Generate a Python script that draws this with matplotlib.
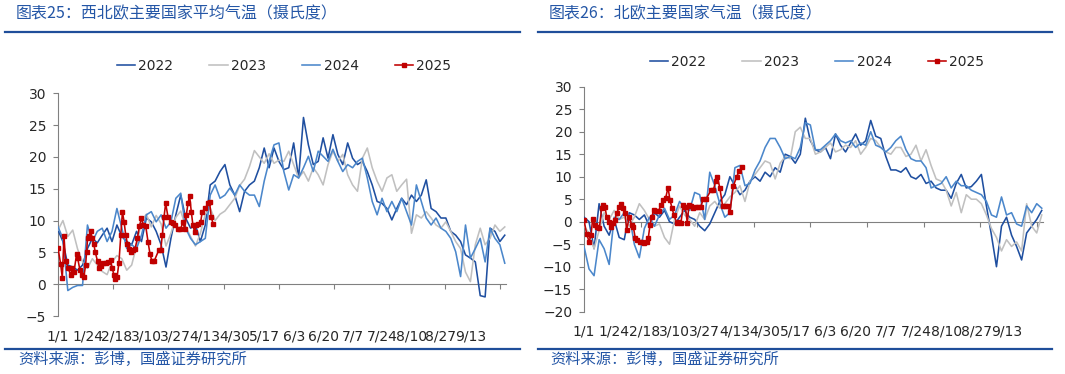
import numpy as np
import matplotlib
matplotlib.use("Agg")
import matplotlib.pyplot as plt
from matplotlib.lines import Line2D

W, H = 1065, 374
CJK = ["Noto Sans CJK SC", "DejaVu Sans"]
plt.rcParams["font.family"] = ["DejaVu Sans"]

# category index of each line value (one value every 4 categories)
days = np.arange(0, 365, 4)
date_labels = ["1/1", "1/24", "2/18", "3/10", "3/27", "4/13", "4/30", "5/17",
               "6/3", "6/20", "7/7", "7/24", "8/10", "8/27", "9/13"]
years = ["2022", "2023", "2024", "2025"]

# --- 图表25 西北欧 ---
nw_2022 = [8.5, 6.7, 3.0, 2.7, 2.2, 3.0, 5.6, 7.2, 6.5, 7.7,
           8.8, 6.7, 9.3, 7.5, 6.7, 6.2, 8.3, 6.7, 10.4, 9.8,
           8.3, 6.2, 2.7, 7.2, 10.9, 14.0, 10.4, 8.8, 9.3, 6.7,
           9.3, 15.6, 16.2, 17.7, 18.8, 15.6, 14.0, 11.4, 14.6, 15.6,
           16.2, 18.3, 21.4, 18.3, 21.4, 19.3, 18.0, 18.3, 22.2, 16.7,
           26.2, 21.9, 18.8, 19.3, 23.0, 19.8, 23.5, 20.4, 18.8, 22.2,
           19.8, 18.8, 19.3, 17.7, 15.6, 13.0, 12.7, 11.9, 10.1, 11.9,
           13.5, 12.5, 14.0, 13.0, 14.0, 16.4, 11.9, 11.4, 10.4, 10.4,
           8.3, 7.7, 6.7, 4.6, 4.1, 3.5, -1.8, -2.0, 8.8, 8.3,
           6.7, 7.7]
nw_2023 = [8.5, 10.0, 7.5, 8.5, 5.5, 3.5, 2.5, 4.0, 3.0, 2.0,
           1.5, 3.5, 4.5, 4.0, 2.2, 3.0, 6.0, 10.0, 11.0, 9.0,
           10.8, 9.5, 6.0, 8.0, 10.5, 11.5, 9.0, 7.5, 6.0, 8.0,
           11.0, 12.0, 10.0, 11.0, 11.5, 12.5, 13.5, 15.5, 16.5, 18.5,
           21.0, 20.0, 19.0, 20.5, 19.0, 19.5, 19.3, 20.9, 18.8, 16.7,
           17.7, 16.2, 18.3, 17.2, 15.6, 18.8, 20.9, 19.3, 20.4, 17.2,
           15.6, 14.6, 19.8, 21.4, 18.3, 16.2, 14.6, 16.7, 17.2, 14.6,
           15.6, 16.5, 8.0, 10.9, 10.4, 11.4, 10.4, 9.3, 8.8, 9.8,
           8.3, 6.7, 5.6, 1.9, 0.4, 6.2, 8.8, 6.2, 7.2, 9.3,
           8.3, 9.0]
nw_2024 = [9.0, 7.2, -1.0, -0.5, -0.2, -0.2, 9.3, 6.7, 8.3, 8.8,
           6.7, 8.3, 11.9, 8.8, 5.6, 6.2, 5.6, 7.7, 10.9, 11.4,
           9.8, 10.9, 8.8, 9.8, 13.5, 14.3, 8.8, 7.2, 6.2, 6.7,
           7.2, 14.0, 15.6, 13.5, 14.0, 15.1, 14.0, 15.6, 14.6, 14.0,
           14.0, 12.2, 16.2, 19.3, 21.9, 22.2, 17.7, 14.8, 17.2, 16.7,
           18.3, 20.1, 17.7, 20.9, 20.1, 19.3, 21.2, 19.3, 17.7, 18.8,
           18.3, 19.3, 19.8, 16.7, 13.0, 10.9, 13.5, 11.4, 13.0, 11.4,
           13.5, 11.4, 9.3, 15.6, 13.0, 10.4, 9.3, 10.4, 8.8, 8.3,
           7.2, 5.1, 1.2, 9.3, 4.1, 5.6, 7.2, 3.5, 8.8, 7.2,
           6.2, 3.3]
nw_x2025 = [0.0, 2.2, 3.5, 4.9, 6.2, 8.4, 10.3, 11.6, 13.0, 15.2,
            16.0, 17.9, 19.2, 21.1, 22.5, 23.3, 24.1, 25.5, 26.5, 27.9,
            29.2, 30.3, 32.2, 33.3, 34.7, 36.8, 38.7, 40.9, 42.8, 44.1,
            45.5, 46.8, 48.2, 49.6, 51.2, 52.5, 53.9, 55.2, 56.6, 58.2,
            59.8, 61.5, 62.8, 64.7, 66.3, 68.0, 69.6, 71.5, 73.4, 75.0,
            76.6, 78.3, 82.0, 83.7, 85.0, 86.4, 87.7, 89.6, 92.3, 94.0,
            95.6, 97.8, 99.6, 101.8, 103.2, 104.5, 105.9, 107.2, 108.6, 109.9,
            111.3, 112.6, 114.0, 116.2, 117.5, 120.0, 122.1, 123.5, 124.8, 126.5]
nw_2025 = [5.7, 3.1, 1.0, 7.5, 3.6, 2.5, 1.4, 2.5, 1.9, 4.8,
           4.1, 2.2, 1.4, 1.2, 3.0, 5.1, 7.2, 7.5, 8.3, 7.2,
           6.3, 5.1, 3.6, 2.5, 2.9, 3.3, 3.3, 3.5, 3.8, 2.6,
           1.5, 0.8, 1.2, 3.3, 7.8, 11.4, 9.7, 7.7, 6.3, 5.5,
           5.1, 5.3, 5.6, 7.2, 9.1, 10.4, 9.3, 9.1, 6.6, 4.7,
           3.6, 3.6, 5.3, 5.3, 7.8, 10.6, 12.7, 10.6, 9.8, 9.6,
           9.3, 8.7, 8.6, 9.7, 8.7, 10.8, 12.7, 13.9, 11.4, 9.3,
           8.2, 9.3, 9.5, 9.7, 11.4, 11.9, 12.7, 12.9, 10.6, 9.4]

# --- 图表26 北欧 ---
n_2022 = [1.0, 0.0, -6.0, 4.0, -1.0, -3.0, 0.5, -3.5, -4.0, 2.0,
          1.5, 0.5, 1.5, -1.0, 2.0, 1.0, 2.5, 0.0, -0.5, 1.0,
          2.5, 1.0, 0.5, -1.0, -2.0, -0.5, 2.0, 4.5, 6.0, 10.0,
          8.0, 6.0, 7.0, 9.0, 10.0, 9.0, 11.0, 10.0, 12.0, 11.0,
          15.0, 14.5, 13.0, 15.0, 23.0, 18.0, 16.0, 15.5, 16.5, 14.0,
          19.5, 17.0, 15.5, 17.5, 19.5, 17.0, 18.0, 22.5, 19.0, 18.5,
          14.5, 11.5, 11.5, 11.0, 12.0, 10.0, 9.5, 10.5, 8.5, 9.0,
          7.5, 7.0, 7.0, 5.2, 8.5, 10.5, 7.5, 7.8, 9.0, 10.5,
          3.5, -3.0, -10.0, -1.0, 1.0, -3.0, -5.5, -8.5, -2.5, -1.0,
          0.5, 2.5]
n_2023 = [-1.0, -2.5, -6.0, -2.0, 2.0, 0.5, 2.5, 0.5, 1.0, -1.0,
          1.0, 4.0, 2.5, 0.5, -1.0, -0.5, -3.5, -5.0, 0.5, 3.5,
          1.5, 0.5, -1.0, 2.0, 0.5, 3.5, 4.5, 3.0, 4.0, 5.5,
          6.5, 8.0, 4.5, 9.0, 10.5, 12.0, 13.5, 13.0, 9.5, 13.0,
          14.5, 14.0, 20.0, 21.0, 18.5, 18.5, 15.0, 15.5, 16.5, 17.5,
          15.5, 16.0, 17.0, 16.5, 18.0, 15.0, 16.5, 18.5, 18.0, 16.5,
          15.5, 15.0, 16.5, 16.5, 14.5, 15.0, 17.0, 13.5, 16.0, 12.5,
          9.5, 9.0, 7.0, 3.5, 6.5, 2.0, 6.0, 5.0, 5.0, 4.0,
          1.5, -1.5, -3.5, -6.5, -4.0, -5.5, -4.5, -6.5, 4.0, -1.0,
          -2.5, 1.5]
n_2024 = [-5.5, -10.5, -12.0, -4.0, -6.0, -9.5, 1.0, 0.5, 2.0, 1.5,
          -5.0, -8.0, -1.5, 1.0, -1.0, 1.5, 3.0, 0.5, 1.5, 4.5,
          3.0, 2.5, 6.5, 6.0, 0.5, 11.0, 8.0, 4.0, 1.0, 2.0,
          12.0, 12.5, 8.0, 8.5, 11.5, 13.5, 16.5, 18.5, 18.5, 16.5,
          14.0, 14.5, 14.0, 16.5, 22.0, 21.5, 16.0, 16.0, 17.0, 18.0,
          19.5, 18.0, 17.5, 18.0, 16.5, 17.5, 17.0, 20.0, 17.0, 16.5,
          15.5, 16.5, 18.0, 19.0, 16.0, 14.0, 13.5, 13.5, 12.0, 7.5,
          8.0, 8.5, 10.0, 7.5, 9.0, 8.0, 8.0, 7.0, 6.5, 6.0,
          4.5, 1.5, 1.0, 5.5, 1.5, 2.0, -0.5, -1.0, 3.5, 2.0,
          4.0, 3.0]
n_x2025 = [0.0, 2.1, 4.0, 5.6, 6.9, 8.7, 10.1, 12.2, 14.0, 15.4,
           16.7, 18.0, 19.9, 21.2, 22.8, 24.6, 26.0, 28.1, 29.4, 31.3,
           32.6, 33.9, 36.0, 37.9, 39.2, 40.8, 42.4, 44.5, 46.4, 48.0,
           49.8, 51.1, 52.5, 53.8, 55.6, 57.2, 59.4, 61.2, 63.1, 64.9,
           66.8, 68.4, 70.0, 71.5, 73.7, 75.3, 77.1, 79.0, 80.6, 82.1,
           83.5, 85.1, 86.9, 89.0, 90.9, 92.7, 94.9, 97.0, 101.0, 102.8,
           104.9, 106.0, 108.1, 110.2, 112.1, 114.2, 116.1, 118.7, 121.4, 123.5,
           125.3]
n_2025 = [0.4, -2.7, -4.4, -3.0, 0.7, -0.7, -1.1, -1.5, 3.0, 3.7,
          3.3, 1.1, 0.0, -1.1, -0.2, 0.4, 1.9, 3.3, 3.9, 3.0,
          2.0, -1.9, 1.1, -0.7, -1.1, -3.7, -4.1, -4.6, -4.4, -4.7,
          -4.6, -3.7, -0.7, 1.1, 2.6, 2.4, 2.4, 3.7, 4.8, 5.2,
          7.6, 4.8, 3.0, 1.5, -0.2, 0.0, -0.2, 3.7, 3.3, -0.2,
          3.7, 3.5, 3.0, 3.3, 3.2, 3.3, 5.0, 5.0, 7.0, 7.0,
          9.1, 10.0, 7.4, 3.5, 3.5, 3.5, 2.2, 7.9, 10.0, 11.3,
          12.1]

C22, C23, C24, C25 = "#1F4FA0", "#C0C0C0", "#4B87CB", "#C00000"
AXC = "#808080"
TXT = "#262626"
BLUE = "#2456A6"

fig = plt.figure(figsize=(W / 100, H / 100), dpi=100)


def fx(px):
    return px / W


def fy(py):
    return 1 - py / H


def panel(left, right, top, bottom, ylim, s22, s23, s24, x25, v25, xpad):
    ax = fig.add_axes([fx(left), fy(bottom), fx(right - left), fy(top) - fy(bottom)])
    h = []
    h += ax.plot(days, s22, color=C22, lw=1.15, zorder=3)
    h += ax.plot(days, s23, color=C23, lw=1.15, zorder=3)
    h += ax.plot(days, s24, color=C24, lw=1.15, zorder=3)
    h += ax.plot(x25, v25, color=C25, lw=1.15, marker="s", ms=3.2, zorder=4)
    ax.set_xlim(0, 365)
    ax.set_ylim(*ylim)
    ax.set_yticks(np.arange(ylim[0], ylim[1] + 1, 5))
    ax.set_xticks(np.arange(0, 337, 24), date_labels)
    ax.tick_params(axis="x", length=0, pad=xpad, labelsize=10, labelcolor=TXT)
    ax.tick_params(axis="y", direction="out", length=3.5, width=0.8, color=AXC,
                   pad=5, labelsize=10, labelcolor=TXT)
    for s in ["top", "right", "bottom"]:
        ax.spines[s].set_visible(False)
    ax.spines["left"].set_color(AXC)
    ax.spines["left"].set_linewidth(0.8)
    # horizontal axis sits at zero, ticks every 45 categories
    zero = (0 - ylim[0]) / (ylim[1] - ylim[0])
    sec = ax.secondary_xaxis(zero)
    sec.set_xticks(np.arange(45, 365, 45))
    sec.tick_params(direction="out", length=3.5, width=0.8, color=AXC,
                    labelbottom=False, labeltop=False)
    for sp in sec.spines.values():
        sp.set_color(AXC)
        sp.set_linewidth(0.8)
    return ax, h


ax1, h1 = panel(58, 506, 93.3, 316, (-5, 30), nw_2022, nw_2023, nw_2024,
                nw_x2025, nw_2025, 9.5)
ax2, h2 = panel(584, 1043, 86.7, 311.7, (-20, 30), n_2022, n_2023, n_2024,
                n_x2025, n_2025, 9)

for h, cx, cy in [(h1, 284, 66), (h2, 817, 62)]:
    fig.legend(h, years, loc="center", bbox_to_anchor=(fx(cx), fy(cy)), ncol=4,
               frameon=False, fontsize=10, handlelength=1.3, handletextpad=0.22,
               columnspacing=2.65, labelcolor=TXT)

# titles, rules, sources
fig.text(fx(16), fy(14), "图表25：西北欧主要国家平均气温（摄氏度）", family=CJK,
         fontsize=11.5, color=BLUE, va="center", ha="left")
fig.text(fx(549), fy(14), "图表26：北欧主要国家气温（摄氏度）", family=CJK,
         fontsize=11.5, color=BLUE, va="center", ha="left")
for x0, x1 in [(5, 520), (538, 1052)]:
    for yy in (31.5, 348.5):
        fig.add_artist(Line2D([fx(x0), fx(x1)], [fy(yy), fy(yy)], color="#1F4E9A",
                              lw=1.6, transform=fig.transFigure))
fig.text(fx(18), fy(359), "资料来源：彭博，国盛证券研究所", family=CJK,
         fontsize=11, color=BLUE, va="center", ha="left")
fig.text(fx(550), fy(359), "资料来源：彭博，国盛证券研究所", family=CJK,
         fontsize=11, color=BLUE, va="center", ha="left")

fig.savefig("out.png", dpi=100)
